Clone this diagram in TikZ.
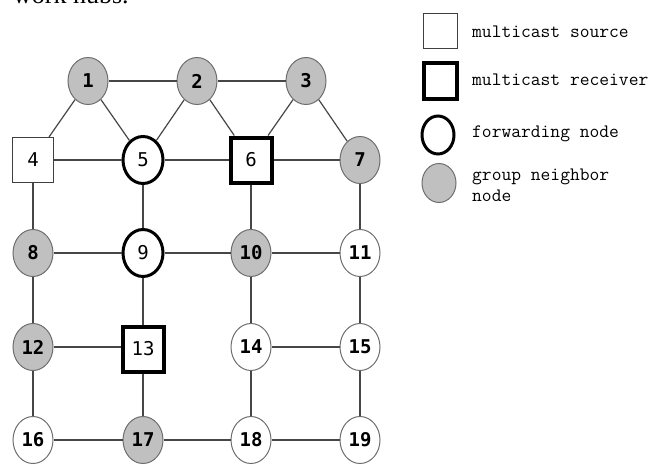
\documentclass[tikz,border=0pt]{standalone}
\usepackage{fontspec}
\setmainfont{Liberation Serif}
\newfontfamily\numfont{DejaVu Sans Mono}
\definecolor{nodegray}{RGB}{192,192,192}
\definecolor{rimgray}{RGB}{110,110,110}
\definecolor{linkgray}{RGB}{70,70,70}
\tikzset{
  base/.style={inner sep=0pt, font=\numfont\fontsize{19}{19}\selectfont},
  plain/.style={base, ellipse, draw=rimgray, line width=1pt, minimum width=40pt, minimum height=47pt, font=\numfont\bfseries\fontsize{19}{19}\selectfont},
  neighbor/.style={plain, fill=nodegray},
  forward/.style={base, ellipse, draw=black, line width=3pt, minimum width=40pt, minimum height=47pt},
  source/.style={base, rectangle, draw=black!75, line width=1pt, minimum width=41pt, minimum height=45pt},
  receiver/.style={base, rectangle, draw=black, line width=4pt, minimum width=41pt, minimum height=45pt},
  link/.style={draw=linkgray, line width=1.2pt},
  legendtext/.style={anchor=west, align=left, inner sep=0pt, font=\ttfamily\fontsize{19}{21}\selectfont}
}
\usetikzlibrary{shapes.geometric}
\begin{document}
\begin{tikzpicture}[x=1pt,y=-1pt]
\useasboundingbox (0,0) rectangle (658,463);
% last line of the running text above the figure
\node[anchor=base west, inner sep=0pt, font=\fontsize{26}{26}\selectfont] (caption) at (13,3) {work hubs.};

% network nodes
\node[neighbor] (n1) at (88,81) {1};
\node[neighbor] (n2) at (197,81) {2};
\node[neighbor] (n3) at (306,81) {3};
\node[source]   (n4) at (33,160) {4};
\node[forward]  (n5) at (143,160) {5};
\node[receiver] (n6) at (251,160) {6};
\node[neighbor] (n7) at (360,160) {7};
\node[neighbor] (n8) at (33,253) {8};
\node[forward]  (n9) at (143,253) {9};
\node[neighbor] (n10) at (251,253) {10};
\node[plain]    (n11) at (360,253) {11};
\node[neighbor] (n12) at (33,347) {12};
\node[receiver] (n13) at (143,349) {13};
\node[plain]    (n14) at (251,347) {14};
\node[plain]    (n15) at (360,347) {15};
\node[plain]    (n16) at (33,440) {16};
\node[neighbor] (n17) at (143,440) {17};
\node[plain]    (n18) at (251,440) {18};
\node[plain]    (n19) at (360,440) {19};

% links
\foreach \a/\b in {n1/n2, n2/n3, n1/n4, n1/n5, n2/n5, n2/n6, n3/n6, n3/n7,
                   n4/n5, n5/n6, n6/n7, n4/n8, n5/n9, n6/n10, n7/n11,
                   n8/n9, n9/n10, n10/n11, n8/n12, n9/n13, n10/n14, n11/n15,
                   n14/n15, n12/n16, n13/n17, n14/n18, n15/n19,
                   n16/n17, n17/n18, n18/n19}
  \draw[link] (\a) -- (\b);
\draw[link] (n12) -- (n12 -| n13.west);

% legend
\node[source, minimum width=34pt, minimum height=35pt] (ksrc) at (440,31) {};
\node[receiver, minimum width=33pt, minimum height=36pt] (krcv) at (440,81) {};
\node[forward, minimum width=32pt, minimum height=38pt] (kfwd) at (438,135) {};
\node[neighbor, minimum width=34pt, minimum height=39pt] (knbr) at (439,183) {};
\node[legendtext] (tsrc) at (472,32) {multicast source};
\node[legendtext] (trcv) at (472,80) {multicast receiver};
\node[legendtext] (tfwd) at (472,134) {forwarding node};
\node[legendtext] (tnbr) at (472,185) {group neighbor\\node};
\end{tikzpicture}
\end{document}
